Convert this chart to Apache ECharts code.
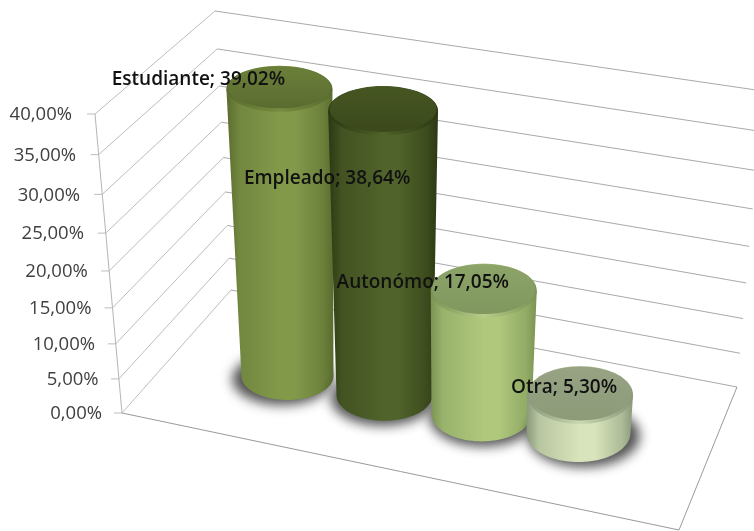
<!DOCTYPE html>
<html>
<head>
<meta charset="utf-8">
<style>html,body{margin:0;padding:0;background:#fff}#c{width:754px;height:531px}</style>
<script src="https://cdn.jsdelivr.net/npm/echarts@6/dist/echarts.min.js"></script>
</head>
<body>
<div id="c"></div>
<script>
const categories = ['Estudiante', 'Empleado', 'Autonómo', 'Otra'];
const values = [39.02, 38.64, 17.05, 5.30];
const ticks = [0, 5, 10, 15, 20, 25, 30, 35, 40];
const tickLabels = ['0,00%', '5,00%', '10,00%', '15,00%', '20,00%', '25,00%', '30,00%', '35,00%', '40,00%'];

// Styling and projection constants
const palette = [
  {edge:'#5a6c2e', center:'#82994a', rim:'#768c3f', topA:'#6b7f39', topB:'#5b6c31'},
  {edge:'#2c3813', center:'#50632a', rim:'#4f6227', topA:'#465622', topB:'#3b491b'},
  {edge:'#7a9353', center:'#afc87c', rim:'#b5cd88', topA:'#8ca468', topB:'#80975f'},
  {edge:'#88987a', center:'#d8e4bb', rim:'#cbd8b0', topA:'#97a383', topB:'#8d9b79'}
];
const labelOffsets = [[-81, -9], [-56, 68], [-61, -8], [-16, -7]];
const FRONT = {x0:122, x1:95, y0:413, y1:114};
const BACK_L = {x0:231, x1:215, y0:290, y1:11};
const BACK_R = {x0:737, x1:763, y0:387, y1:91};
const FRONT_R = [679, 530];
const K_WALL = 0.1, K_CYL = 0.03, DEPTH_STEP = 19, VX = 405, TAPER = 0.00024;

const warp = (t, k) => t - k * t * (1 - t);
const lerp = (a, b, s) => a + (b - a) * s;
const at = (e, s) => [lerp(e.x0, e.x1, s), lerp(e.y0, e.y1, s)];
const pctOf = (api, v) => {
  const a = api.coord([0, 0])[1], b = api.coord([0, 40])[1], c = api.coord([0, v])[1];
  return (a - c) / (a - b);
};
const ellipsePts = (cx, cy, rx, ry, from, to, n) => {
  const p = [];
  for (let i = 0; i <= n; i++) {
    const a = from + (to - from) * i / n;
    p.push([cx + rx * Math.cos(a), cy + ry * Math.sin(a)]);
  }
  return p;
};
const hGrad = (stops) => new echarts.graphic.LinearGradient(0, 0, 1, 0, stops);
const vGrad = (a, b) => new echarts.graphic.LinearGradient(0, 0, 0, 1, [{offset:0,color:a},{offset:1,color:b}]);

function renderWall(params, api) {
  const v = api.value(1);
  const s = warp(pctOf(api, v), K_WALL);
  const f = at(FRONT, s), l = at(BACK_L, s), r = at(BACK_R, s);
  const idx = params.dataIndex;
  return {type:'group', children:[
    {type:'polyline', shape:{points:[[f[0]-8, f[1]], f, l]}, style:{stroke:'#bdbdbd', lineWidth:1, fill:null}},
    {type:'polyline', shape:{points:[l, r]}, style:{stroke:'#a9a9a9', lineWidth:1, fill:null}},
    {type:'text', style:{text:tickLabels[idx], x:lerp(102, 72, s), y:f[1]+1, align:'right', verticalAlign:'middle',
      font:'18.5px "Open Sans"', fill:'#404040'}}
  ]};
}

function renderFrame(params, api) {
  const f0 = at(FRONT, 0), f1 = at(FRONT, 1), br = at(BACK_R, 0);
  return {type:'group', children:[
    {type:'polyline', shape:{points:[f1, f0]}, style:{stroke:'#b5b5b5', lineWidth:1, fill:null}},
    {type:'polyline', shape:{points:[f0, FRONT_R, br]}, style:{stroke:'#9a9a9a', lineWidth:1, fill:null}}
  ]};
}

function geom(api, i, v) {
  const base = api.coord([i, 0]);
  const H = api.coord([i, 0])[1] - api.coord([i, 40])[1];
  const h = H * warp(pctOf(api, v), K_CYL);
  const by = base[1] + DEPTH_STEP * i, bx = base[0];
  const tx = bx + (bx - VX) * TAPER * h, ty = by - h;
  const rxB = 46 + 2 * i, rxT = rxB + 0.0244 * h;
  const ryB = 24 + 1.7 * i, ryT = ryB - 0.0035 * h;
  return {bx, by, tx, ty, rxB, rxT, ryB, ryT};
}

function renderCyl(params, api) {
  const i = api.value(0), v = api.value(1);
  const g = geom(api, i, v), c = palette[i];
  const side = [[g.tx - g.rxT, g.ty], [g.tx + g.rxT, g.ty]]
    .concat(ellipsePts(g.bx, g.by, g.rxB, g.ryB, 0, Math.PI, 48));
  const midL = echarts.color.lerp(0.6, [c.edge, c.center]);
  const midR = echarts.color.lerp(0.45, [c.edge, c.center]);
  const stops = [{offset:0,color:c.edge},{offset:.12,color:midL},{offset:.5,color:c.center},{offset:.64,color:c.center},{offset:.9,color:midR},{offset:1,color:c.edge}];
  const OFF = 2000;
  return {type:'group', children:[
    {type:'polygon', shape:{points:ellipsePts(g.bx + (i - 1.5) * 3.5 - OFF, g.by + 3, g.rxB + 4, g.ryB + 2, 0, Math.PI * 2, 64)},
      style:{fill:'#000', shadowBlur:12, shadowOffsetX:OFF, shadowColor:'rgba(50,50,50,0.85)'}},
    {type:'polygon', shape:{points:side}, style:{fill:hGrad(stops)}},
    {type:'polygon', shape:{points:ellipsePts(g.tx, g.ty, g.rxT, g.ryT, 0, Math.PI * 2, 64)},
      style:{fill:hGrad([{offset:0,color:c.edge},{offset:.5,color:c.rim},{offset:1,color:c.edge}])}},
    {type:'polygon', shape:{points:ellipsePts(g.tx, g.ty - 1.5, g.rxT - 1.5, g.ryT - 2, 0, Math.PI * 2, 64)},
      style:{fill:vGrad(c.topA, c.topB)}}
  ]};
}

function renderLabel(params, api) {
  const i = api.value(0), v = api.value(1);
  const g = geom(api, i, v), o = labelOffsets[i];
  return {type:'text', style:{
    text: categories[i] + '; ' + v.toFixed(2).replace('.', ',') + '%',
    x: g.tx + o[0], y: g.ty + o[1], align:'center', verticalAlign:'middle',
    font:'600 19px "Open Sans"', fill:'#111111'}};
}

const chart = echarts.init(document.getElementById('c'), null, {renderer:'canvas'});
const cylData = values.map((v, i) => [i, v]);
chart.setOption({
  animation:false,
  backgroundColor:'#ffffff',
  grid:{left:239, width:388, top:81.4, height:294.6},
  xAxis:{type:'category', data:categories, show:false},
  yAxis:{type:'value', min:0, max:40, interval:5, show:false},
  series:[
    {type:'custom', z:1, silent:true, renderItem:renderWall, data:ticks.map(v => [0, v]), encode:{x:0, y:1}},
    {type:'custom', z:1, silent:true, renderItem:renderFrame, data:[[0, 0]], encode:{x:0, y:1}},
    {type:'custom', z:2, silent:true, renderItem:renderCyl, data:cylData, encode:{x:0, y:1}},
    {type:'custom', z:3, silent:true, renderItem:renderLabel, data:cylData, encode:{x:0, y:1}}
  ]
});
</script>
</body>
</html>
